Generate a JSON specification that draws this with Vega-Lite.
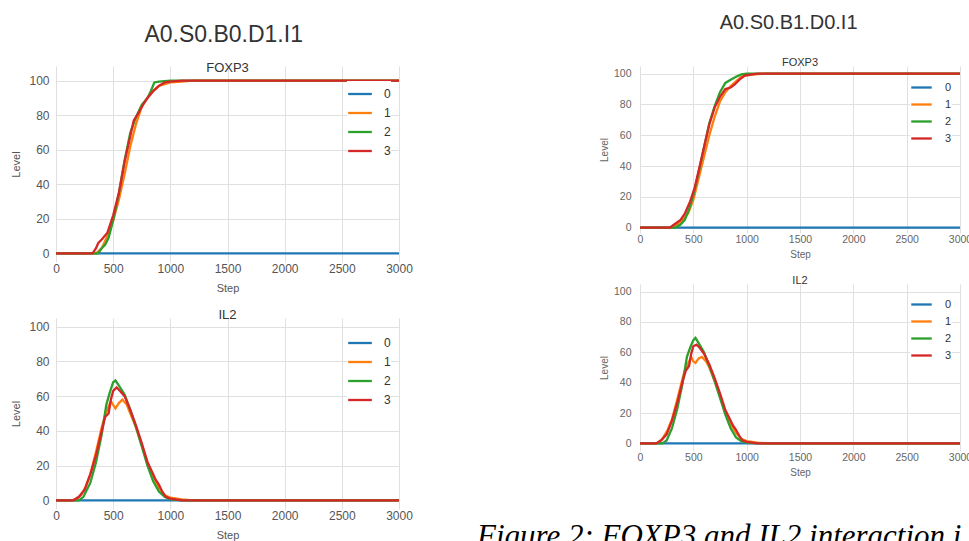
{
  "$schema": "https://vega.github.io/schema/vega-lite/v6.json",
  "padding": {"left": 10, "top": 13, "right": 0, "bottom": 0},
  "background": "white",
  "bounds": "flush",
  "spacing": 584,
  "title": {"text": "Figure 2: FOXP3 and IL2 interaction i", "orient": "bottom", "anchor": "start", "dx": 466, "offset": -18, "font": "Liberation Serif", "fontStyle": "italic", "fontWeight": "normal", "fontSize": 31, "color": "#000000"},
  "config": {
    "font": "Liberation Sans",
    "view": {"stroke": null},
    "axis": {"domain": false, "ticks": false, "tickSize": 0, "grid": true, "gridColor": "#e0e0e0", "gridWidth": 1, "labelColor": "#555555", "titleColor": "#555555", "titleFontWeight": "normal", "format": "d", "labelFlush": false},
    "title": {"fontWeight": "normal", "color": "#333333"},
    "legend": {"title": null, "symbolType": "stroke", "symbolStrokeWidth": 2.3, "fillColor": "white", "padding": 0, "labelColor": "#333333"},
    "line": {"strokeWidth": 2.3}
  },
  "datasets": {
    "LF": [
      {"series": "0", "step": 0, "level": 0}, {"series": "0", "step": 3000, "level": 0},
      {"series": "1", "step": 0, "level": 0}, {"series": "1", "step": 350, "level": 0}, {"series": "1", "step": 400, "level": 3}, {"series": "1", "step": 450, "level": 10}, {"series": "1", "step": 500, "level": 19}, {"series": "1", "step": 550, "level": 31}, {"series": "1", "step": 600, "level": 46}, {"series": "1", "step": 650, "level": 62}, {"series": "1", "step": 700, "level": 75}, {"series": "1", "step": 750, "level": 85}, {"series": "1", "step": 800, "level": 90}, {"series": "1", "step": 850, "level": 94}, {"series": "1", "step": 900, "level": 97}, {"series": "1", "step": 950, "level": 98}, {"series": "1", "step": 1000, "level": 99}, {"series": "1", "step": 1100, "level": 99.5}, {"series": "1", "step": 1200, "level": 100}, {"series": "1", "step": 3000, "level": 100},
      {"series": "2", "step": 0, "level": 0}, {"series": "2", "step": 370, "level": 0}, {"series": "2", "step": 400, "level": 3}, {"series": "2", "step": 430, "level": 5}, {"series": "2", "step": 460, "level": 9}, {"series": "2", "step": 500, "level": 19}, {"series": "2", "step": 550, "level": 35}, {"series": "2", "step": 600, "level": 54}, {"series": "2", "step": 650, "level": 70}, {"series": "2", "step": 700, "level": 79}, {"series": "2", "step": 750, "level": 86}, {"series": "2", "step": 800, "level": 90}, {"series": "2", "step": 830, "level": 94}, {"series": "2", "step": 860, "level": 99}, {"series": "2", "step": 900, "level": 99.5}, {"series": "2", "step": 1000, "level": 100}, {"series": "2", "step": 3000, "level": 100},
      {"series": "3", "step": 0, "level": 0}, {"series": "3", "step": 320, "level": 0}, {"series": "3", "step": 350, "level": 3}, {"series": "3", "step": 370, "level": 6}, {"series": "3", "step": 400, "level": 8}, {"series": "3", "step": 450, "level": 12}, {"series": "3", "step": 500, "level": 22}, {"series": "3", "step": 550, "level": 35}, {"series": "3", "step": 600, "level": 53}, {"series": "3", "step": 650, "level": 68}, {"series": "3", "step": 680, "level": 77}, {"series": "3", "step": 720, "level": 81}, {"series": "3", "step": 760, "level": 86}, {"series": "3", "step": 800, "level": 90}, {"series": "3", "step": 850, "level": 94}, {"series": "3", "step": 900, "level": 97}, {"series": "3", "step": 950, "level": 99}, {"series": "3", "step": 1000, "level": 99.5}, {"series": "3", "step": 1100, "level": 100}, {"series": "3", "step": 3000, "level": 100}
    ],
    "LI": [
      {"series": "0", "step": 0, "level": 0}, {"series": "0", "step": 3000, "level": 0},
      {"series": "1", "step": 0, "level": 0}, {"series": "1", "step": 170, "level": 0}, {"series": "1", "step": 220, "level": 3}, {"series": "1", "step": 260, "level": 8}, {"series": "1", "step": 300, "level": 15}, {"series": "1", "step": 350, "level": 28}, {"series": "1", "step": 400, "level": 42}, {"series": "1", "step": 430, "level": 49}, {"series": "1", "step": 460, "level": 54}, {"series": "1", "step": 480, "level": 57}, {"series": "1", "step": 500, "level": 55}, {"series": "1", "step": 520, "level": 53}, {"series": "1", "step": 550, "level": 56}, {"series": "1", "step": 580, "level": 58}, {"series": "1", "step": 620, "level": 55}, {"series": "1", "step": 650, "level": 50}, {"series": "1", "step": 700, "level": 42}, {"series": "1", "step": 750, "level": 32}, {"series": "1", "step": 800, "level": 22}, {"series": "1", "step": 850, "level": 14}, {"series": "1", "step": 900, "level": 7}, {"series": "1", "step": 950, "level": 3}, {"series": "1", "step": 1000, "level": 1.5}, {"series": "1", "step": 1100, "level": 0.5}, {"series": "1", "step": 1200, "level": 0}, {"series": "1", "step": 3000, "level": 0},
      {"series": "2", "step": 0, "level": 0}, {"series": "2", "step": 200, "level": 0}, {"series": "2", "step": 240, "level": 2}, {"series": "2", "step": 300, "level": 10}, {"series": "2", "step": 350, "level": 22}, {"series": "2", "step": 400, "level": 38}, {"series": "2", "step": 440, "level": 55}, {"series": "2", "step": 470, "level": 62}, {"series": "2", "step": 500, "level": 68}, {"series": "2", "step": 520, "level": 69}, {"series": "2", "step": 550, "level": 66}, {"series": "2", "step": 600, "level": 61}, {"series": "2", "step": 650, "level": 52}, {"series": "2", "step": 700, "level": 42}, {"series": "2", "step": 750, "level": 31}, {"series": "2", "step": 800, "level": 20}, {"series": "2", "step": 850, "level": 11}, {"series": "2", "step": 900, "level": 5}, {"series": "2", "step": 950, "level": 2}, {"series": "2", "step": 1000, "level": 0.5}, {"series": "2", "step": 1100, "level": 0}, {"series": "2", "step": 3000, "level": 0},
      {"series": "3", "step": 0, "level": 0}, {"series": "3", "step": 150, "level": 0}, {"series": "3", "step": 200, "level": 2}, {"series": "3", "step": 250, "level": 6}, {"series": "3", "step": 300, "level": 15}, {"series": "3", "step": 350, "level": 26}, {"series": "3", "step": 400, "level": 40}, {"series": "3", "step": 430, "level": 48}, {"series": "3", "step": 460, "level": 50}, {"series": "3", "step": 480, "level": 58}, {"series": "3", "step": 500, "level": 63}, {"series": "3", "step": 530, "level": 65}, {"series": "3", "step": 560, "level": 63}, {"series": "3", "step": 600, "level": 60}, {"series": "3", "step": 650, "level": 52}, {"series": "3", "step": 700, "level": 43}, {"series": "3", "step": 750, "level": 33}, {"series": "3", "step": 800, "level": 22}, {"series": "3", "step": 850, "level": 15}, {"series": "3", "step": 870, "level": 12}, {"series": "3", "step": 900, "level": 9}, {"series": "3", "step": 930, "level": 5}, {"series": "3", "step": 960, "level": 2}, {"series": "3", "step": 1000, "level": 1}, {"series": "3", "step": 1100, "level": 0}, {"series": "3", "step": 3000, "level": 0}
    ],
    "RF": [
      {"series": "0", "step": 0, "level": 0}, {"series": "0", "step": 3000, "level": 0},
      {"series": "1", "step": 0, "level": 0}, {"series": "1", "step": 300, "level": 0}, {"series": "1", "step": 350, "level": 2}, {"series": "1", "step": 400, "level": 5}, {"series": "1", "step": 450, "level": 9}, {"series": "1", "step": 500, "level": 18}, {"series": "1", "step": 550, "level": 32}, {"series": "1", "step": 600, "level": 46}, {"series": "1", "step": 650, "level": 60}, {"series": "1", "step": 700, "level": 72}, {"series": "1", "step": 750, "level": 82}, {"series": "1", "step": 800, "level": 88}, {"series": "1", "step": 850, "level": 92}, {"series": "1", "step": 900, "level": 95}, {"series": "1", "step": 950, "level": 98}, {"series": "1", "step": 1000, "level": 99}, {"series": "1", "step": 1100, "level": 99.7}, {"series": "1", "step": 1200, "level": 100}, {"series": "1", "step": 3000, "level": 100},
      {"series": "2", "step": 0, "level": 0}, {"series": "2", "step": 330, "level": 0}, {"series": "2", "step": 380, "level": 2}, {"series": "2", "step": 420, "level": 5}, {"series": "2", "step": 460, "level": 12}, {"series": "2", "step": 500, "level": 21}, {"series": "2", "step": 550, "level": 36}, {"series": "2", "step": 600, "level": 52}, {"series": "2", "step": 650, "level": 68}, {"series": "2", "step": 700, "level": 79}, {"series": "2", "step": 750, "level": 88}, {"series": "2", "step": 800, "level": 94}, {"series": "2", "step": 850, "level": 96}, {"series": "2", "step": 900, "level": 98}, {"series": "2", "step": 950, "level": 99.5}, {"series": "2", "step": 1000, "level": 100}, {"series": "2", "step": 3000, "level": 100},
      {"series": "3", "step": 0, "level": 0}, {"series": "3", "step": 280, "level": 0}, {"series": "3", "step": 320, "level": 2}, {"series": "3", "step": 380, "level": 5}, {"series": "3", "step": 420, "level": 9}, {"series": "3", "step": 470, "level": 17}, {"series": "3", "step": 513, "level": 26}, {"series": "3", "step": 560, "level": 40}, {"series": "3", "step": 606, "level": 54}, {"series": "3", "step": 650, "level": 67}, {"series": "3", "step": 700, "level": 78}, {"series": "3", "step": 750, "level": 85}, {"series": "3", "step": 800, "level": 90}, {"series": "3", "step": 850, "level": 91}, {"series": "3", "step": 888, "level": 93}, {"series": "3", "step": 930, "level": 96}, {"series": "3", "step": 981, "level": 98.7}, {"series": "3", "step": 1050, "level": 99.5}, {"series": "3", "step": 1100, "level": 100}, {"series": "3", "step": 3000, "level": 100}
    ],
    "RI": [
      {"series": "0", "step": 0, "level": 0}, {"series": "0", "step": 3000, "level": 0},
      {"series": "1", "step": 0, "level": 0}, {"series": "1", "step": 160, "level": 0}, {"series": "1", "step": 210, "level": 3}, {"series": "1", "step": 260, "level": 9}, {"series": "1", "step": 300, "level": 16}, {"series": "1", "step": 350, "level": 29}, {"series": "1", "step": 400, "level": 43}, {"series": "1", "step": 430, "level": 50}, {"series": "1", "step": 460, "level": 54}, {"series": "1", "step": 480, "level": 57}, {"series": "1", "step": 500, "level": 54}, {"series": "1", "step": 520, "level": 53}, {"series": "1", "step": 550, "level": 56}, {"series": "1", "step": 580, "level": 57}, {"series": "1", "step": 620, "level": 54}, {"series": "1", "step": 650, "level": 50}, {"series": "1", "step": 700, "level": 41}, {"series": "1", "step": 750, "level": 31}, {"series": "1", "step": 800, "level": 21}, {"series": "1", "step": 850, "level": 13}, {"series": "1", "step": 900, "level": 7}, {"series": "1", "step": 950, "level": 3}, {"series": "1", "step": 1000, "level": 1.5}, {"series": "1", "step": 1100, "level": 0.5}, {"series": "1", "step": 1200, "level": 0}, {"series": "1", "step": 3000, "level": 0},
      {"series": "2", "step": 0, "level": 0}, {"series": "2", "step": 210, "level": 0}, {"series": "2", "step": 250, "level": 2}, {"series": "2", "step": 300, "level": 10}, {"series": "2", "step": 350, "level": 23}, {"series": "2", "step": 400, "level": 40}, {"series": "2", "step": 440, "level": 57}, {"series": "2", "step": 470, "level": 63}, {"series": "2", "step": 500, "level": 68}, {"series": "2", "step": 520, "level": 69.5}, {"series": "2", "step": 550, "level": 66}, {"series": "2", "step": 600, "level": 60}, {"series": "2", "step": 650, "level": 51}, {"series": "2", "step": 700, "level": 41}, {"series": "2", "step": 750, "level": 30}, {"series": "2", "step": 800, "level": 19}, {"series": "2", "step": 850, "level": 10}, {"series": "2", "step": 900, "level": 4}, {"series": "2", "step": 950, "level": 1.5}, {"series": "2", "step": 1000, "level": 0.5}, {"series": "2", "step": 1100, "level": 0}, {"series": "2", "step": 3000, "level": 0},
      {"series": "3", "step": 0, "level": 0}, {"series": "3", "step": 150, "level": 0}, {"series": "3", "step": 200, "level": 2}, {"series": "3", "step": 250, "level": 6}, {"series": "3", "step": 300, "level": 15}, {"series": "3", "step": 350, "level": 27}, {"series": "3", "step": 400, "level": 41}, {"series": "3", "step": 430, "level": 48}, {"series": "3", "step": 460, "level": 51}, {"series": "3", "step": 480, "level": 59}, {"series": "3", "step": 500, "level": 64}, {"series": "3", "step": 530, "level": 65}, {"series": "3", "step": 560, "level": 63}, {"series": "3", "step": 600, "level": 59}, {"series": "3", "step": 650, "level": 52}, {"series": "3", "step": 700, "level": 43}, {"series": "3", "step": 750, "level": 33}, {"series": "3", "step": 800, "level": 22}, {"series": "3", "step": 850, "level": 15}, {"series": "3", "step": 870, "level": 12}, {"series": "3", "step": 900, "level": 9}, {"series": "3", "step": 930, "level": 5}, {"series": "3", "step": 960, "level": 2}, {"series": "3", "step": 1000, "level": 1}, {"series": "3", "step": 1100, "level": 0}, {"series": "3", "step": 3000, "level": 0}
    ]
  },
  "resolve": {"legend": {"color": "independent"}},
  "hconcat": [
    {
      "title": {"text": "A0.S0.B0.D1.I1", "fontSize": 23, "offset": 15, "anchor": "middle", "dx": 12},
      "bounds": "flush",
      "spacing": 56,
      "resolve": {"legend": {"color": "independent"}},
      "vconcat": [
        {
          "width": 343, "height": 196,
          "title": {"text": "FOXP3", "fontSize": 13, "offset": -9},
          "data": {"name": "LF"},
          "mark": {"type": "line"},
          "encoding": {
            "x": {"field": "step", "type": "quantitative", "scale": {"domain": [0, 3000], "nice": false}, "axis": {"values": [0, 500, 1000, 1500, 2000, 2500, 3000], "title": "Step", "labelFontSize": 12, "titleFontSize": 11, "labelPadding": 1, "titlePadding": 8}},
            "y": {"field": "level", "type": "quantitative", "scale": {"domain": [-5, 108.5], "nice": false, "zero": false}, "axis": {"values": [0, 20, 40, 60, 80, 100], "title": "Level", "labelFontSize": 12, "titleFontSize": 11, "labelPadding": 7, "titlePadding": 7}},
            "color": {"field": "series", "type": "nominal", "scale": {"domain": ["0", "1", "2", "3"], "range": ["#1f77b4", "#ff7f0e", "#2ca02c", "#d62728"]}, "legend": {"orient": "none", "legendX": 291, "legendY": 15, "symbolSize": 560, "labelFontSize": 12, "labelOffset": 11, "rowPadding": 0}}
          }
        },
        {
          "width": 343, "height": 191,
          "title": {"text": "IL2", "fontSize": 13, "offset": -4},
          "data": {"name": "LI"},
          "mark": {"type": "line"},
          "encoding": {
            "x": {"field": "step", "type": "quantitative", "scale": {"domain": [0, 3000], "nice": false}, "axis": {"values": [0, 500, 1000, 1500, 2000, 2500, 3000], "title": "Step", "labelFontSize": 12, "titleFontSize": 11, "labelPadding": 1, "titlePadding": 8}},
            "y": {"field": "level", "type": "quantitative", "scale": {"domain": [-5, 105], "nice": false, "zero": false}, "axis": {"values": [0, 20, 40, 60, 80, 100], "title": "Level", "labelFontSize": 12, "titleFontSize": 11, "labelPadding": 7, "titlePadding": 7}},
            "color": {"field": "series", "type": "nominal", "scale": {"domain": ["0", "1", "2", "3"], "range": ["#1f77b4", "#ff7f0e", "#2ca02c", "#d62728"]}, "legend": {"orient": "none", "legendX": 291, "legendY": 12, "symbolSize": 560, "labelFontSize": 12, "labelOffset": 11, "rowPadding": 0}}
          }
        }
      ]
    },
    {
      "title": {"text": "A0.S0.B1.D0.I1", "fontSize": 20, "offset": 24, "anchor": "middle", "dx": 3},
      "bounds": "flush",
      "spacing": 51,
      "resolve": {"legend": {"color": "independent"}},
      "vconcat": [
        {
          "width": 320, "height": 167,
          "title": {"text": "FOXP3", "fontSize": 11, "offset": -2},
          "data": {"name": "RF"},
          "mark": {"type": "line"},
          "encoding": {
            "x": {"field": "step", "type": "quantitative", "scale": {"domain": [0, 3000], "nice": false}, "axis": {"values": [0, 500, 1000, 1500, 2000, 2500, 3000], "title": "Step", "labelFontSize": 10.5, "titleFontSize": 10, "labelPadding": 1, "titlePadding": 5, "labelColor": "#666666", "titleColor": "#666666"}},
            "y": {"field": "level", "type": "quantitative", "scale": {"domain": [-3.5, 105], "nice": false, "zero": false}, "axis": {"values": [0, 20, 40, 60, 80, 100], "title": "Level", "labelFontSize": 10.5, "titleFontSize": 10, "labelPadding": 9, "titlePadding": 4, "labelColor": "#666666", "titleColor": "#666666"}},
            "color": {"field": "series", "type": "nominal", "scale": {"domain": ["0", "1", "2", "3"], "range": ["#1f77b4", "#ff7f0e", "#2ca02c", "#d62728"]}, "legend": {"orient": "none", "legendX": 270, "legendY": 10, "symbolSize": 420, "labelFontSize": 11, "labelOffset": 12, "rowPadding": 0}}
          }
        },
        {
          "width": 320, "height": 167,
          "title": {"text": "IL2", "fontSize": 11, "offset": -2},
          "data": {"name": "RI"},
          "mark": {"type": "line"},
          "encoding": {
            "x": {"field": "step", "type": "quantitative", "scale": {"domain": [0, 3000], "nice": false}, "axis": {"values": [0, 500, 1000, 1500, 2000, 2500, 3000], "title": "Step", "labelFontSize": 10.5, "titleFontSize": 10, "labelPadding": 1, "titlePadding": 5, "labelColor": "#666666", "titleColor": "#666666"}},
            "y": {"field": "level", "type": "quantitative", "scale": {"domain": [-5, 105], "nice": false, "zero": false}, "axis": {"values": [0, 20, 40, 60, 80, 100], "title": "Level", "labelFontSize": 10.5, "titleFontSize": 10, "labelPadding": 9, "titlePadding": 4, "labelColor": "#666666", "titleColor": "#666666"}},
            "color": {"field": "series", "type": "nominal", "scale": {"domain": ["0", "1", "2", "3"], "range": ["#1f77b4", "#ff7f0e", "#2ca02c", "#d62728"]}, "legend": {"orient": "none", "legendX": 270, "legendY": 9, "symbolSize": 420, "labelFontSize": 11, "labelOffset": 12, "rowPadding": 0}}
          }
        }
      ]
    }
  ]
}
